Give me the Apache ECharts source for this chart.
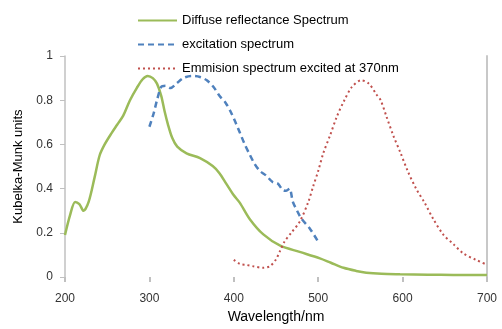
<!DOCTYPE html>
<html>
<head>
<meta charset="utf-8">
<script src="https://cdn.jsdelivr.net/npm/echarts@6/dist/echarts.min.js"></script>
<style>
  html, body { margin: 0; padding: 0; background: #fff; }
  #chart { width: 502px; height: 329px; }
</style>
</head>
<body>
<div id="chart"></div>
<script>
// diffuse reflectance (green)
const diffuseX = [200, 206, 212, 217, 222, 228, 235, 241, 247, 255, 262, 269, 277, 285, 292, 298, 304, 309, 314, 318, 322, 327, 333, 344, 360, 375, 383, 391, 400, 407, 419, 435, 455, 478, 502, 515, 530, 545, 557, 575, 597, 630, 660, 700]
const diffuseY = [0.19, 0.28, 0.34, 0.33, 0.30, 0.34, 0.45, 0.55, 0.60, 0.65, 0.69, 0.73, 0.80, 0.855, 0.895, 0.91, 0.90, 0.875, 0.82, 0.75, 0.69, 0.63, 0.59, 0.56, 0.538, 0.502, 0.47, 0.423, 0.37, 0.337, 0.262, 0.193, 0.142, 0.114, 0.085, 0.065, 0.042, 0.028, 0.02, 0.015, 0.013, 0.011, 0.01, 0.01]

// excitation (blue dashed)
const excitX = [300, 305, 309, 314, 319, 325, 332, 340, 350, 360, 368, 376, 383, 390, 396, 402, 407, 413, 419, 425, 431, 438, 446, 452, 458, 462, 466, 470, 475, 480, 490, 500]
const excitY = [0.68, 0.74, 0.80, 0.86, 0.865, 0.855, 0.875, 0.90, 0.91, 0.905, 0.89, 0.86, 0.82, 0.79, 0.75, 0.70, 0.655, 0.60, 0.553, 0.51, 0.48, 0.46, 0.43, 0.423, 0.394, 0.39, 0.40, 0.34, 0.30, 0.265, 0.22, 0.16]

// emission (red dotted)
const emisX = [400, 407, 415, 423, 435, 443, 450, 455, 460, 468, 478, 488, 494, 500, 506, 514, 522, 531, 540, 551, 560, 569, 574, 581, 589, 597, 606, 616, 626, 636, 648, 660, 672, 687, 700]
const emisY = [0.078, 0.06, 0.055, 0.049, 0.042, 0.05, 0.08, 0.12, 0.16, 0.20, 0.25, 0.337, 0.41, 0.48, 0.56, 0.64, 0.725, 0.80, 0.86, 0.89, 0.875, 0.826, 0.80, 0.725, 0.64, 0.567, 0.48, 0.40, 0.337, 0.265, 0.193, 0.15, 0.107, 0.078, 0.056]

const seriesNames = ['Diffuse reflectance Spectrum', 'excitation spectrum', 'Emmision spectrum excited at 370nm']

function pairs(xs, ys) {
  return xs.map((x, i) => [x, ys[i]])
}

const font = 'Liberation Sans, Arial, sans-serif'
const myChart = echarts.init(document.getElementById('chart'))
const option = {
  animation: false,
  grid: { left: 65, right: 15, top: 56, bottom: 41 },
  legend: {
    orient: 'vertical',
    left: 137,
    top: 14,
    padding: 0,
    itemWidth: 39,
    itemHeight: 12,
    itemGap: 11,
    itemStyle: { opacity: 0 },
    textStyle: { fontFamily: font, fontSize: 13, color: '#000' },
    data: seriesNames,
  },
  xAxis: {
    type: 'value',
    min: 200,
    max: 700,
    interval: 100,
    name: 'Wavelength/nm',
    nameLocation: 'middle',
    nameGap: 27,
    nameTextStyle: { fontFamily: font, fontSize: 14, color: '#000' },
    axisLine: { show: false },
    axisTick: { show: true, length: 5, lineStyle: { color: '#c0c0c0', width: 2 } },
    axisLabel: { fontFamily: font, fontSize: 12, color: '#333', margin: 16 },
    splitLine: { show: false },
  },
  yAxis: [
    {
      type: 'value',
      min: 0,
      max: 1,
      interval: 0.2,
      name: 'Kubelka-Munk units',
      nameLocation: 'middle',
      nameGap: 38,
      nameTextStyle: { fontFamily: font, fontSize: 13, color: '#000' },
      axisLine: { show: true, lineStyle: { color: '#c0c0c0', width: 1.5 } },
      axisTick: { show: true, length: 5, lineStyle: { color: '#c0c0c0' } },
      axisLabel: { fontFamily: font, fontSize: 12, color: '#333', margin: 12 },
      splitLine: { show: false },
    },
    {
      type: 'value',
      min: 0,
      max: 1,
      position: 'right',
      axisLine: { show: true, lineStyle: { color: '#c8c8c8', width: 2 } },
      axisTick: { show: false },
      axisLabel: { show: false },
      splitLine: { show: false },
    },
  ],
  series: [
    {
      name: seriesNames[0],
      type: 'line',
      symbol: 'none',
      smooth: 0.3,
      z: 3,
      lineStyle: { color: '#9bbb59', width: 2.5 },
      itemStyle: { color: '#9bbb59' },
      data: pairs(diffuseX, diffuseY),
    },
    {
      name: seriesNames[1],
      type: 'line',
      symbol: 'none',
      smooth: 0.3,
      lineStyle: { color: '#4f81bd', width: 2.5, type: [6, 4] },
      itemStyle: { color: '#4f81bd' },
      data: pairs(excitX, excitY),
    },
    {
      name: seriesNames[2],
      type: 'line',
      symbol: 'none',
      smooth: 0.3,
      lineStyle: { color: '#c0504d', width: 2, type: [2, 3] },
      itemStyle: { color: '#c0504d' },
      data: pairs(emisX, emisY),
    },
  ],
}
myChart.setOption(option)
window.addEventListener('resize', () => {
  myChart.resize()
})
</script>
</body>
</html>
